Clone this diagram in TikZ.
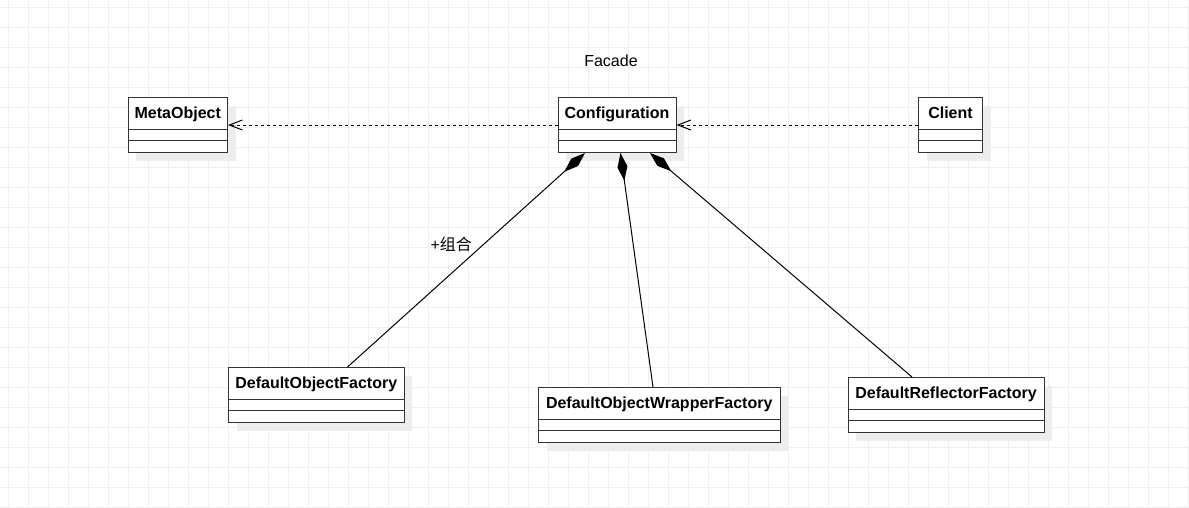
\documentclass[tikz,border=0pt]{standalone}
\usepackage{fontspec}
\setmainfont{Liberation Sans}
\newfontfamily\cjk{Noto Sans CJK SC}
\usetikzlibrary{arrows.meta,shadows}

\definecolor{gridgray}{HTML}{EFEFEF}
\definecolor{boxline}{HTML}{333333}

\tikzset{
  clsbox/.style={draw=boxline, fill=white, line width=1pt, inner sep=0pt,
    anchor=north west, minimum height=55pt,
    drop shadow={shadow xshift=8pt, shadow yshift=-8pt, fill=black!7, opacity=1}},
  clshead/.style={draw=boxline, fill=white, line width=1pt, inner sep=0pt,
    anchor=north, minimum height=31.5pt, text height=14pt, text depth=3pt,
    font=\fontsize{16}{19}\selectfont\bfseries},
  clsline/.style={draw=boxline, line width=1pt},
  depend/.style={line width=1pt, dash pattern=on 3pt off 3pt,
    -{Straight Barb[length=13pt,width=10pt]}},
  compose/.style={line width=1pt, -{Diamond[length=28pt,width=10pt]}},
  plaintext/.style={inner sep=0pt, font=\fontsize{16}{19}\selectfont}
}

% class box: name, left, top, width, title
\newcommand{\umlclass}[5]{%
  \node[clsbox, minimum width=#4] (#1) at (#2,#3) {};
  \node[clshead, minimum width=#4] (#1-name) at (#1.north) {#5};
  \draw[clsline] ([yshift=-43.5pt]#1.north west) -- ([yshift=-43.5pt]#1.north east);
}

\begin{document}
\begin{tikzpicture}[x=1pt,y=-1pt]
\useasboundingbox (0,0) rectangle (1189,507);
\fill[white] (0,0) rectangle (1189,507);
\foreach \gx in {8,28,...,1188} \draw[gridgray] (\gx,0) -- (\gx,507);
\foreach \gy in {7,27,...,507} \draw[gridgray] (0,\gy) -- (1189,\gy);

\node[plaintext] (facade) at (611,61) {Facade};

\umlclass{meta}{127.5}{97}{99.5}{MetaObject}
\umlclass{conf}{557.5}{97}{118}{Configuration}
\umlclass{client}{918}{97}{64}{Client}
\umlclass{dof}{228}{367}{175.5}{DefaultObjectFactory}
\umlclass{dowf}{538}{387}{241.5}{DefaultObjectWrapperFactory}
\umlclass{drf}{847.5}{377}{196}{DefaultReflectorFactory}

\draw[depend] (client) -- (conf);
\draw[depend] (conf) -- (meta);
\draw[compose] ([xshift=119.5pt]dof.north west) -- node[plaintext, pos=.572, anchor=east, xshift=-11pt] (combine) {+{\cjk 组合}} ([xshift=27.5pt]conf.south west);
\draw[compose] ([xshift=115pt]dowf.north west) -- ([xshift=63pt]conf.south west);
\draw[compose] ([xshift=64.5pt]drf.north west) -- ([xshift=92.5pt]conf.south west);
\end{tikzpicture}
\end{document}
